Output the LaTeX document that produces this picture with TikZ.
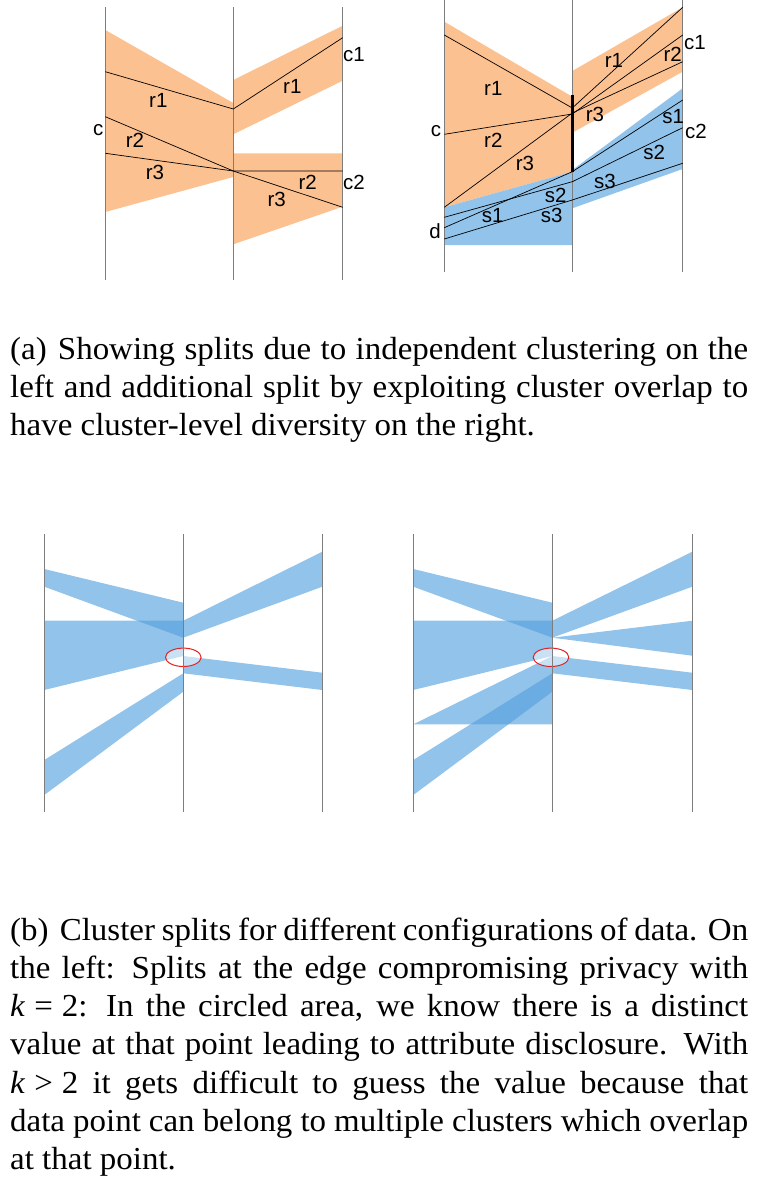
\documentclass[tikz,border=0pt]{standalone}
\usepackage{fontspec}
\setmainfont{Liberation Serif}[FakeStretch=1.03]
\newfontfamily\labfont{Liberation Sans}
\definecolor{orng}{RGB}{251,193,145}
\definecolor{blu}{RGB}{146,195,234}
\definecolor{bluA}{RGB}{83,160,222}
\definecolor{axg}{RGB}{125,125,125}
\definecolor{ringred}{RGB}{225,35,35}
\newcommand\capfont{\fontsize{32}{38.3}\selectfont}
\newcommand\relsp{\hspace{0.28em}}
\begin{document}
\begin{tikzpicture}[x=1pt,y=-1pt,
  axis/.style={draw=axg,line width=1.2pt},
  seg/.style={draw=black,line width=0.7pt},
  lab/.style={font=\labfont\fontsize{20.5}{20.5}\selectfont,inner sep=0pt},
  band/.style={fill=bluA,fill opacity=0.633},
  ring/.style={draw=ringred,line width=1pt,fill=white,fill opacity=0.5,draw opacity=1},
  captext/.style={anchor=base west,inner sep=0pt,text width=738pt,align=justify,font=\capfont}]
\useasboundingbox (0,0) rectangle (759,1177);

% ---------- top left ----------
\fill[orng] (105.3,30)--(233.3,103)--(233.3,177)--(105.3,212)--cycle;
\fill[orng] (233.3,80)--(342.7,25.7)--(342.7,80.7)--(233.3,134.3)--cycle;
\fill[orng] (233.3,153.3)--(342.7,153.3)--(342.7,206.7)--(233.3,244.3)--cycle;
\draw[axis] (105.3,7)--(105.3,280);
\draw[axis] (233.3,7)--(233.3,280);
\draw[axis] (342.7,7)--(342.7,280);
\draw[seg] (105.3,71.7)--(233.3,109)--(342.7,37.7);
\draw[seg] (105.3,116.7)--(233.3,171)--(342.7,171);
\draw[seg] (105.3,153.3)--(233.3,171)--(342.7,207.3);
\node[lab] (la1) at (158.3,100) {r1};
\node[lab] (la2) at (292.3,86.7) {r1};
\node[lab] (la3) at (98.3,130) {c};
\node[lab] (la4) at (135,140) {r2};
\node[lab] (la5) at (155,172.7) {r3};
\node[lab] (la6) at (354,55) {c1};
\node[lab] (la7) at (354,182.7) {c2};
\node[lab] (la8) at (307.7,182.7) {r2};
\node[lab] (la9) at (276.7,199) {r3};

% ---------- top right ----------
\fill[orng] (444.3,21.7)--(572.3,96.7)--(572.3,171.7)--(444.3,207.3)--cycle;
\fill[blu] (444.3,207.3)--(572.3,171.7)--(572.3,245)--(444.3,245)--cycle;
\fill[orng] (572.3,71)--(682.7,7.3)--(682.7,71.7)--(572.3,132.7)--cycle;
\fill[blu] (572.3,170)--(682.7,88.3)--(682.7,169)--(572.3,208.3)--cycle;
\draw[axis] (444.3,0)--(444.3,271.7);
\draw[axis] (572.3,0)--(572.3,271.7);
\draw[axis] (682.7,0)--(682.7,271.7);
\draw[seg] (444.3,35)--(572.3,108)--(682.7,7.3);
\draw[seg] (444.3,134.3)--(572.3,114)--(682.7,35);
\draw[seg] (444.3,207.3)--(572.3,113)--(682.7,61.7);
\draw[seg] (444.3,217.3)--(572.3,181.7)--(682.7,127.7);
\draw[seg] (444.3,227.7)--(572.3,171.7)--(682.7,100);
\draw[seg] (444.3,239)--(572.3,200)--(682.7,163.3);
\draw[line width=3pt] (572.3,95)--(572.3,171.7);
\node[lab] (lb1) at (493.3,88.3) {r1};
\node[lab] (lb2) at (436,130.7) {c};
\node[lab] (lb3) at (493.3,140) {r2};
\node[lab] (lb4) at (525,163.3) {r3};
\node[lab] (lb5) at (614,60) {r1};
\node[lab] (lb6) at (672.7,54) {r2};
\node[lab] (lb7) at (695,42.7) {c1};
\node[lab] (lb8) at (595,114.3) {r3};
\node[lab] (lb9) at (673.3,116.7) {s1};
\node[lab] (lb10) at (696,131.7) {c2};
\node[lab] (lb11) at (654.3,152.7) {s2};
\node[lab] (lb12) at (605,181.7) {s3};
\node[lab] (lb13) at (555.7,195) {s2};
\node[lab] (lb14) at (492.7,216) {s1};
\node[lab] (lb15) at (551.7,215) {s3};
\node[lab] (lb16) at (435,231) {d};

% ---------- caption (a) ----------
\node[captext] (capa) at (10,359) {(a)\hspace{0.35em}Showing splits due to independent clustering on the\linebreak
left and additional split by exploiting cluster overlap to\linebreak
have cluster-level diversity on the right.};

% ---------- bottom left ----------
\begin{scope}
\fill[band] (44.3,569)--(183.3,602.7)--(183.3,637.7)--(44.3,586.7)--cycle;
\fill[band] (44.3,620.7)--(183.3,620.7)--(183.3,656)--(44.3,690)--cycle;
\fill[band] (44.3,760)--(183.3,673.3)--(183.3,691.7)--(44.3,795)--cycle;
\fill[band] (183.3,620.7)--(322.3,551.7)--(322.3,586.7)--(183.3,637.7)--cycle;
\fill[band] (183.3,656)--(322.3,672.7)--(322.3,690)--(183.3,673.3)--cycle;
\draw[ring] (183.3,657.3) ellipse [x radius=17.8pt, y radius=9.2pt];
\draw[axis] (44.3,534)--(44.3,811.7);
\draw[axis] (183.3,534)--(183.3,811.7);
\draw[axis] (322.3,534)--(322.3,811.7);
\end{scope}

% ---------- bottom right ----------
\begin{scope}
\fill[band] (413.3,569)--(552.3,602.7)--(552.3,637.7)--(413.3,586.7)--cycle;
\fill[band] (413.3,620.7)--(552.3,620.7)--(552.3,656)--(413.3,690)--cycle;
\fill[band] (413.3,760)--(552.3,673.3)--(552.3,691.7)--(413.3,795)--cycle;
\fill[band] (413.3,724.3)--(552.3,656)--(552.3,724.3)--cycle;
\fill[band] (552.3,620.7)--(692.3,551.7)--(692.3,586.7)--(552.3,637.7)--cycle;
\fill[band] (552.3,637.7)--(692.3,620.7)--(692.3,655.7)--cycle;
\fill[band] (552.3,656)--(692.3,672.7)--(692.3,690)--(552.3,673.3)--cycle;
\draw[ring] (551,657.3) ellipse [x radius=17.8pt, y radius=9.2pt];
\draw[axis] (413.3,534)--(413.3,811.7);
\draw[axis] (552.3,534)--(552.3,811.7);
\draw[axis] (692.3,534)--(692.3,811.7);
\end{scope}

% ---------- caption (b) ----------
\node[captext] (capb) at (10,940) {(b)\hspace{0.35em}Cluster splits for different configurations of data. On\linebreak
the left: Splits at the edge compromising privacy with\linebreak
\textit{k}\relsp=\relsp2: In the circled area, we know there is a distinct\linebreak
value at that point leading to attribute disclosure. With\linebreak
\textit{k}\relsp>\relsp2 it gets difficult to guess the value because that\linebreak
data point can belong to multiple clusters which overlap\linebreak
at that point.};
\end{tikzpicture}
\end{document}
